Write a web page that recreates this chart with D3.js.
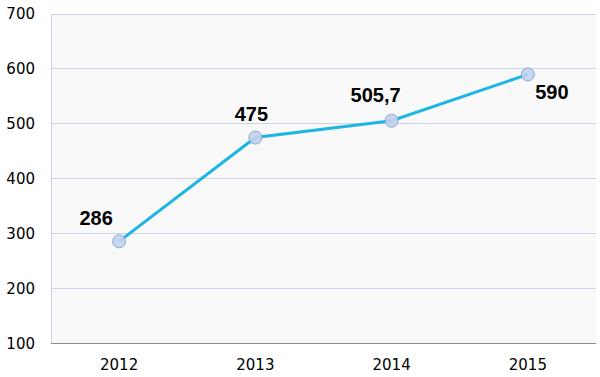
<!DOCTYPE html>
<html>
<head>
<script src="https://cdn.jsdelivr.net/npm/d3@7/dist/d3.min.js"></script>
<style>
  body { margin: 0; background: #fff; }
</style>
</head>
<body>
<svg width="600" height="377" id="mainsvg"></svg>
<script>
  // data
  const years = ['2012', '2013', '2014', '2015'];
  const values = [286, 475, 505.7, 590];
  const labels = ['286', '475', '505,7', '590'];
  const yTicks = [100, 200, 300, 400, 500, 600, 700];

  const svg = d3.select('#mainsvg');
  const mLeft = 51, mRight = 596, mTop = 14, mBottom = 343.5;

  const x = d3.scaleBand().domain(years).range([mLeft, mRight]);
  const y = d3.scaleLinear().domain([100, 700]).range([mBottom, mTop]);
  const cx = d => x(d) + x.bandwidth() / 2;

  // plot background
  svg.append('rect')
    .attr('x', mLeft).attr('y', mTop)
    .attr('width', mRight - mLeft).attr('height', mBottom - mTop)
    .attr('fill', '#f9f9f9');

  // gridlines
  svg.selectAll('.grid').data(yTicks.slice(1)).join('line')
    .attr('class', 'grid')
    .attr('x1', mLeft).attr('x2', mRight)
    .attr('y1', d => y(d)).attr('y2', d => y(d))
    .attr('stroke', '#c9d6ea').attr('stroke-width', 1)
    .attr('shape-rendering', 'crispEdges');

  // left axis line
  svg.append('line')
    .attr('x1', mLeft + 0.5).attr('x2', mLeft + 0.5)
    .attr('y1', mTop).attr('y2', mBottom)
    .attr('stroke', '#c9d6ea');

  // bottom axis
  svg.append('line')
    .attr('x1', mLeft).attr('x2', mRight)
    .attr('y1', mBottom).attr('y2', mBottom)
    .attr('stroke', '#8c8c8c').attr('stroke-width', 1.2);

  // y tick labels
  svg.selectAll('.ylab').data(yTicks).join('text')
    .attr('class', 'ylab')
    .attr('x', 35).attr('y', d => y(d) + 5)
    .attr('text-anchor', 'end')
    .attr('font-family', 'DejaVu Sans, Verdana, sans-serif')
    .attr('font-size', 15)
    .attr('fill', '#000')
    .text(d => d);

  // x tick labels
  svg.selectAll('.xlab').data(years).join('text')
    .attr('class', 'xlab')
    .attr('x', d => cx(d)).attr('y', 370)
    .attr('text-anchor', 'middle')
    .attr('font-family', 'DejaVu Sans, Verdana, sans-serif')
    .attr('font-size', 15)
    .attr('fill', '#000')
    .text(d => d);

  const pts = years.map((yr, i) => ({ yr, v: values[i], lab: labels[i] }));

  // line
  const line = d3.line().x(d => cx(d.yr)).y(d => y(d.v));
  svg.append('path')
    .datum(pts)
    .attr('d', line)
    .attr('fill', 'none')
    .attr('stroke', '#1cb5e4')
    .attr('stroke-width', 3);

  // markers
  svg.selectAll('.pt').data(pts).join('circle')
    .attr('class', 'pt')
    .attr('cx', d => cx(d.yr)).attr('cy', d => y(d.v))
    .attr('r', 6.5)
    .attr('fill', '#c3d2ed')
    .attr('fill-opacity', 0.9)
    .attr('stroke', '#8aa6d2').attr('stroke-width', 1);

  // value labels (offsets relative to the point)
  const offs = [[-23, -16], [-4, -17], [-16, -19], [24, 25]];
  svg.selectAll('.vlab').data(pts).join('text')
    .attr('class', 'vlab')
    .attr('x', (d, i) => cx(d.yr) + offs[i][0])
    .attr('y', (d, i) => y(d.v) + offs[i][1])
    .attr('text-anchor', 'middle')
    .attr('font-family', 'Liberation Sans, Arial, sans-serif')
    .attr('font-weight', 'bold')
    .attr('font-size', 20)
    .attr('fill', '#000')
    .text(d => d.lab);
</script>
</body>
</html>
